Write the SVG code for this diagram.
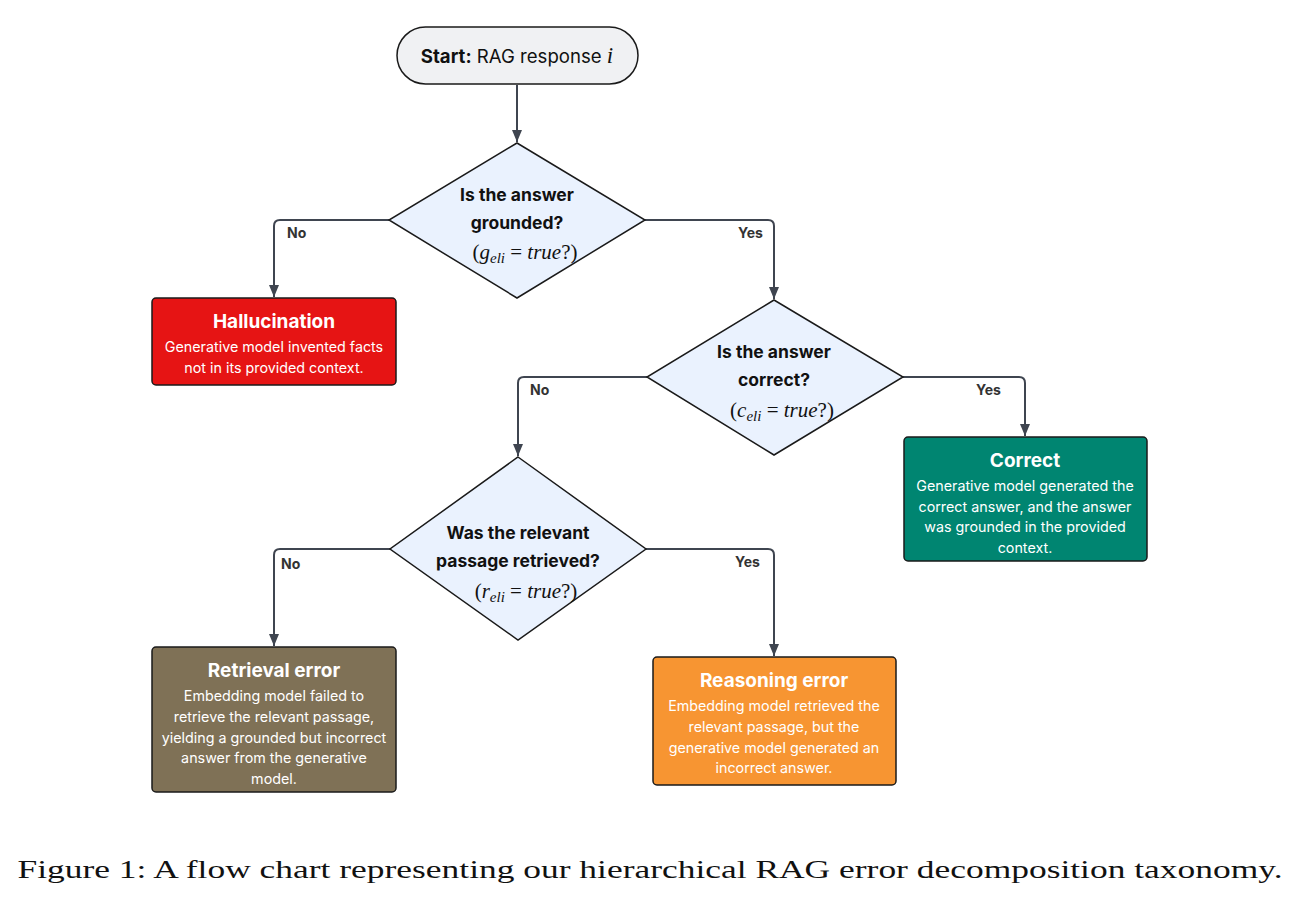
<svg xmlns="http://www.w3.org/2000/svg" width="1300" height="901" viewBox="0 0 1300 901">
<style>
.edge{fill:none;stroke:#3f4550;stroke-width:2;stroke-linejoin:round}
.dia{fill:#eaf2fe;stroke:#1a1a1a;stroke-width:1.5}
.box{stroke:#1a1a1a;stroke-width:1.5}
.q{font-family:Inter,"Liberation Sans",sans-serif;font-weight:700;font-size:17.5px;fill:#111;text-anchor:middle}
.m{font-family:"Liberation Serif","DejaVu Serif",serif;font-size:21px;fill:#111;text-anchor:middle}
.t{font-family:Inter,"Liberation Sans",sans-serif;font-weight:700;font-size:19px;fill:#fff;text-anchor:middle}
.b{font-family:Inter,"Liberation Sans",sans-serif;font-size:14.3px;fill:#fff;text-anchor:middle}
.lbl{font-family:Inter,"Liberation Sans",sans-serif;font-weight:700;font-size:14px;fill:#333}
</style>
<defs>
<marker id="ah" viewBox="0 0 12 10" refX="12" refY="5" markerWidth="12" markerHeight="10" markerUnits="userSpaceOnUse" orient="auto"><path d="M0,0 L12,5 L0,10 z" fill="#3f4550"/></marker>
</defs>
<rect width="1300" height="901" fill="#fff"/>
<g id="connectors">
<path class="edge" d="M517,85 V142" marker-end="url(#ah)"/>
<path class="edge" d="M389,220 H280 Q274,220 274,226 V297" marker-end="url(#ah)"/>
<path class="edge" d="M645,220 H768 Q774,220 774,226 V299" marker-end="url(#ah)"/>
<path class="edge" d="M647,377 H524 Q518,377 518,383 V456" marker-end="url(#ah)"/>
<path class="edge" d="M903,377 H1019 Q1025,377 1025,383 V436" marker-end="url(#ah)"/>
<path class="edge" d="M390,549 H280 Q274,549 274,555 V646" marker-end="url(#ah)"/>
<path class="edge" d="M646,549 H768 Q774,549 774,555 V656" marker-end="url(#ah)"/>
<text class="lbl" x="287" y="238">No</text>
<text class="lbl" x="738" y="238">Yes</text>
<text class="lbl" x="530" y="395">No</text>
<text class="lbl" x="976" y="395">Yes</text>
<text class="lbl" x="281" y="569">No</text>
<text class="lbl" x="735" y="567">Yes</text>
</g>
<g id="start">
<rect x="397" y="27" width="241" height="57" rx="28.5" fill="#f0f1f3" stroke="#1a1a1a" stroke-width="1.5"/>
<text x="517" y="63" font-family="Inter,'Liberation Sans',sans-serif" font-size="18.6" fill="#111" text-anchor="middle"><tspan font-weight="700">Start:</tspan> RAG response <tspan font-family="'Liberation Serif',serif" font-style="italic" font-size="23">i</tspan></text>
</g>
<g id="q1">
<polygon class="dia" points="517,143 645,220 517,298 389,220"/>
<text class="q" x="517" y="201">Is the answer</text>
<text class="q" x="517" y="229">grounded?</text>
<text class="m" x="525" y="259">(<tspan font-style="italic">g</tspan><tspan font-style="italic" font-size="15" dy="4">eli</tspan><tspan dy="-4"> = </tspan><tspan font-style="italic">true</tspan>?)</text>
</g>
<g id="hallucination">
<rect class="box" x="152" y="298" width="244" height="87" rx="4" fill="#e61414"/>
<text class="t" x="274" y="328">Hallucination</text>
<text class="b" x="274" y="352">Generative model invented facts</text>
<text class="b" x="274" y="373">not in its provided context.</text>
</g>
<g id="q2">
<polygon class="dia" points="774,300 903,377 774,455 647,377"/>
<text class="q" x="774" y="358">Is the answer</text>
<text class="q" x="774" y="386">correct?</text>
<text class="m" x="782" y="417">(<tspan font-style="italic">c</tspan><tspan font-style="italic" font-size="15" dy="4">eli</tspan><tspan dy="-4"> = </tspan><tspan font-style="italic">true</tspan>?)</text>
</g>
<g id="correct">
<rect class="box" x="904" y="437" width="243" height="124" rx="4" fill="#008571"/>
<text class="t" x="1025" y="467">Correct</text>
<text class="b" x="1025" y="491">Generative model generated the</text>
<text class="b" x="1025" y="512">correct answer, and the answer</text>
<text class="b" x="1025" y="532">was grounded in the provided</text>
<text class="b" x="1025" y="553">context.</text>
</g>
<g id="q3">
<polygon class="dia" points="518,457 646,549 518,640 390,549"/>
<text class="q" x="518" y="539">Was the relevant</text>
<text class="q" x="518" y="567">passage retrieved?</text>
<text class="m" x="526" y="598">(<tspan font-style="italic">r</tspan><tspan font-style="italic" font-size="15" dy="4">eli</tspan><tspan dy="-4"> = </tspan><tspan font-style="italic">true</tspan>?)</text>
</g>
<g id="retrieval">
<rect class="box" x="152" y="647" width="244" height="145" rx="4" fill="#7f7156"/>
<text class="t" x="274" y="677">Retrieval error</text>
<text class="b" x="274" y="701">Embedding model failed to</text>
<text class="b" x="274" y="722">retrieve the relevant passage,</text>
<text class="b" x="274" y="743">yielding a grounded but incorrect</text>
<text class="b" x="274" y="763">answer from the generative</text>
<text class="b" x="274" y="784">model.</text>
</g>
<g id="reasoning">
<rect class="box" x="653" y="657" width="243" height="128" rx="4" fill="#f79532"/>
<text class="t" x="774" y="687">Reasoning error</text>
<text class="b" x="774" y="711">Embedding model retrieved the</text>
<text class="b" x="774" y="732">relevant passage, but the</text>
<text class="b" x="774" y="753">generative model generated an</text>
<text class="b" x="774" y="773">incorrect answer.</text>
</g>
<text x="650" y="878" font-family="'Liberation Serif',serif" font-size="26" fill="#111" text-anchor="middle" textLength="1265" lengthAdjust="spacingAndGlyphs">Figure 1: A flow chart representing our hierarchical RAG error decomposition taxonomy.</text>
</svg>
